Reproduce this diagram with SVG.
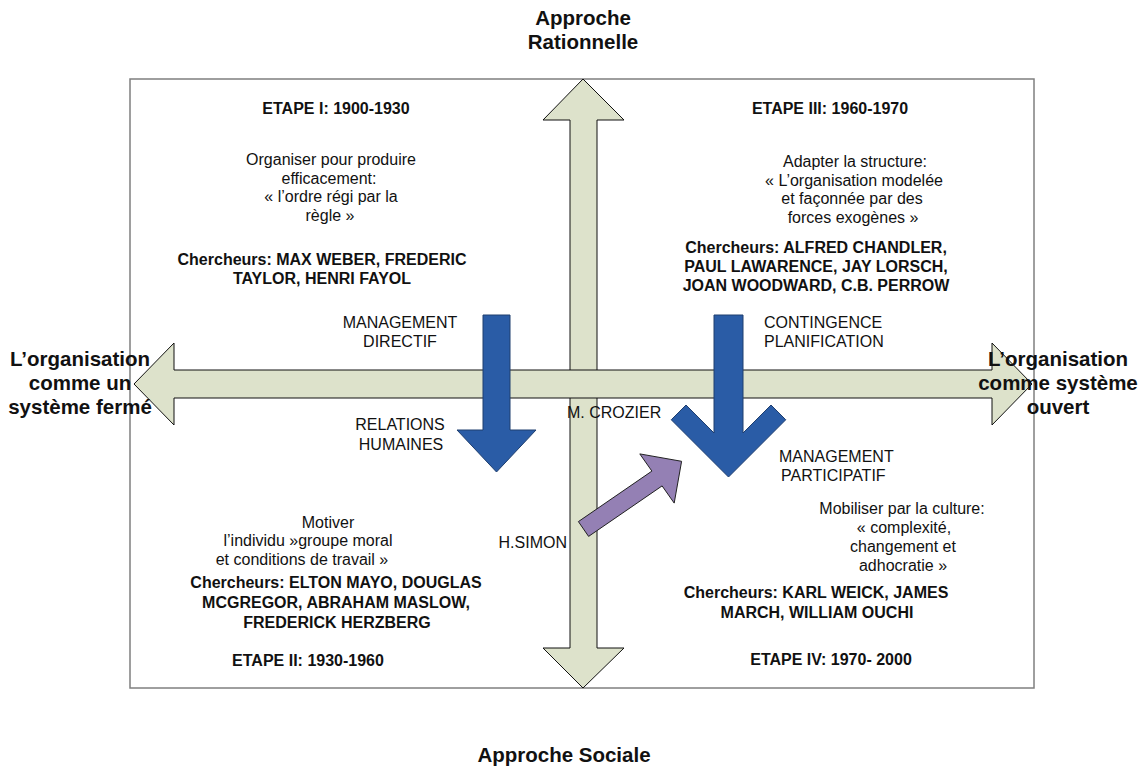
<svg xmlns="http://www.w3.org/2000/svg" width="1142" height="767" viewBox="0 0 1142 767">
<style>
text{font-family:"Liberation Sans",Arial,sans-serif;fill:#111;}
.b{font-weight:bold;font-size:16px;}
.r{font-size:16px;}
.big{font-weight:bold;font-size:20.5px;}
.m{text-anchor:middle;}
.axis{fill:#DDE2CB;stroke:#111;stroke-width:1;}
.blue{fill:#2A5CA6;stroke:#1E3E6E;stroke-width:1;}
.purple{fill:#9480B4;stroke:#222;stroke-width:1;}
</style>
<rect id="frame" x="130" y="79" width="904" height="609" fill="#fff" stroke="#7f7f7f" stroke-width="1.5"/>
<g id="connectors">
<polygon id="axis-vertical" class="axis" points="583,79 624,120 597,120 597,648 624,648 583,688 543,648 570,648 570,120 543,120"/>
<polygon id="axis-horizontal" class="axis" points="134,384 174,343 174,370 992,370 992,343 1032,384 992,425 992,398 174,398 174,425"/>
<polygon id="arrow-directif" class="blue" points="483,315 510,315 510,430 536,430 496.5,472 457,430 483,430"/>
<polygon id="arrow-contingence" class="blue" points="714,315 743,315 743,433 771,405 785.75,419.75 728.5,477 671.25,419.75 686,405 714,433"/>
<polygon id="arrow-simon" class="purple" points="578.4,521.6 651.9,471.1 639.8,453.9 681.6,461.3 674.2,503.1 662.1,485.9 588.6,536.4"/>
</g>
<g id="axis-labels">
<text class="big m" x="583" y="25">Approche</text>
<text class="big m" x="583" y="49">Rationnelle</text>
<text class="big m" x="564" y="762">Approche Sociale</text>
<text class="big m" x="80" y="366">L’organisation</text>
<text class="big m" x="80" y="390">comme un</text>
<text class="big m" x="80" y="414">système fermé</text>
<text class="big m" x="1058" y="366">L’organisation</text>
<text class="big m" x="1058" y="390">comme système</text>
<text class="big m" x="1058" y="414">ouvert</text>
</g>
<g id="etape1">
<text class="b m" x="336" y="114">ETAPE I: 1900-1930</text>
<text class="r m" x="331" y="165">Organiser pour produire</text>
<text class="r m" x="329" y="184">efficacement:</text>
<text class="r m" x="331" y="202">« l’ordre régi par la</text>
<text class="r m" x="330" y="221">règle »</text>
<text class="b m" x="322" y="265">Chercheurs: MAX WEBER, FREDERIC</text>
<text class="b m" x="322" y="284">TAYLOR, HENRI FAYOL</text>
</g>
<g id="etape3">
<text class="b m" x="830" y="114">ETAPE III: 1960-1970</text>
<text class="r m" x="855" y="167">Adapter la structure:</text>
<text class="r m" x="854" y="186">« L’organisation modelée</text>
<text class="r m" x="852" y="204">et façonnée par des</text>
<text class="r m" x="853" y="223">forces exogènes »</text>
<text class="b m" x="816" y="253">Chercheurs: ALFRED CHANDLER,</text>
<text class="b m" x="816" y="272">PAUL LAWARENCE, JAY LORSCH,</text>
<text class="b m" x="816" y="291">JOAN WOODWARD, C.B. PERROW</text>
</g>
<g id="etape2">
<text class="r m" x="328" y="528">Motiver</text>
<text class="r m" x="308" y="546">l’individu »groupe moral</text>
<text class="r m" x="302" y="565">et conditions de travail »</text>
<text class="b m" x="336" y="588">Chercheurs: ELTON MAYO, DOUGLAS</text>
<text class="b m" x="336" y="608">MCGREGOR, ABRAHAM MASLOW,</text>
<text class="b m" x="337" y="628">FREDERICK HERZBERG</text>
<text class="b m" x="308" y="666">ETAPE II: 1930-1960</text>
</g>
<g id="etape4">
<text class="r m" x="902" y="514">Mobiliser par la culture:</text>
<text class="r m" x="904" y="533">« complexité,</text>
<text class="r m" x="903" y="552">changement et</text>
<text class="r m" x="903" y="571">adhocratie »</text>
<text class="b m" x="816" y="598">Chercheurs: KARL WEICK, JAMES</text>
<text class="b m" x="817" y="618">MARCH, WILLIAM OUCHI</text>
<text class="b m" x="831" y="665">ETAPE IV: 1970- 2000</text>
</g>
<g id="management-labels">
<text class="r m" x="400" y="328">MANAGEMENT</text>
<text class="r m" x="400" y="347">DIRECTIF</text>
<text class="r m" x="400" y="430">RELATIONS</text>
<text class="r m" x="401" y="450">HUMAINES</text>
<text class="r" x="764" y="328">CONTINGENCE</text>
<text class="r" x="764" y="347">PLANIFICATION</text>
<text class="r" x="779" y="462">MANAGEMENT</text>
<text class="r" x="781" y="481">PARTICIPATIF</text>
<text class="r" x="567" y="418">M. CROZIER</text>
<text class="r" x="567" y="548" text-anchor="end">H.SIMON</text>
</g>
</svg>
